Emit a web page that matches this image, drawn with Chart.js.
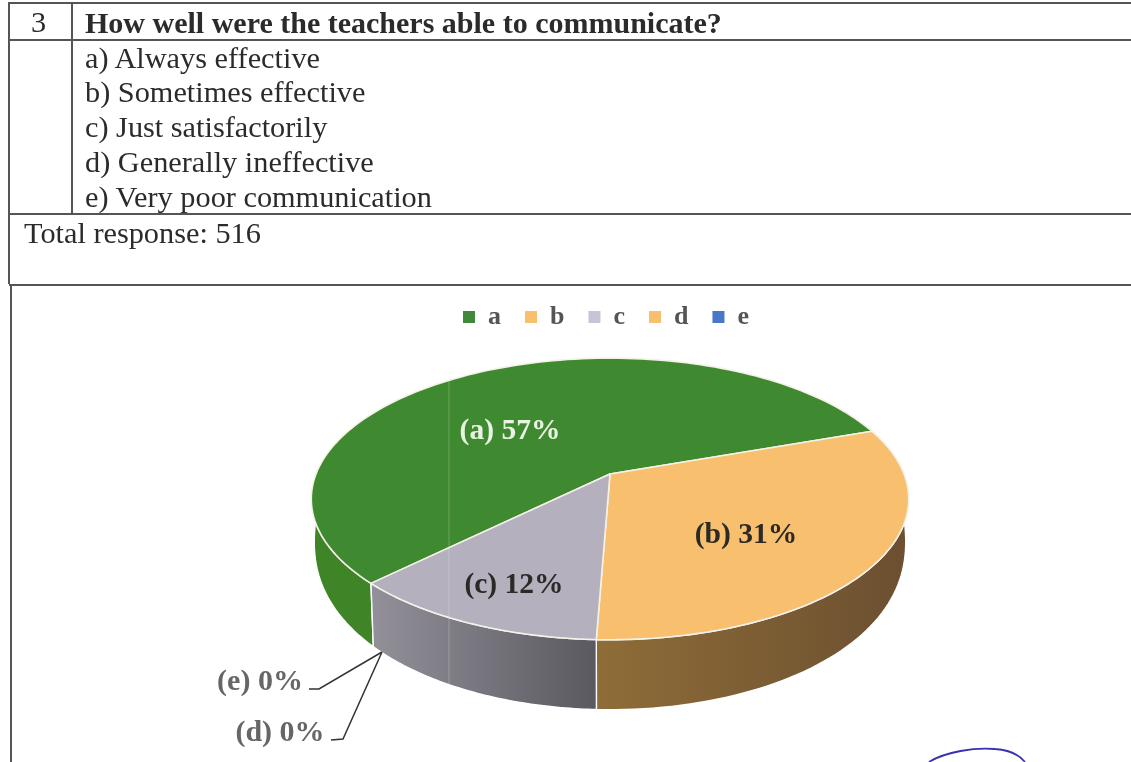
<!DOCTYPE html>
<html><head><meta charset="utf-8">
<script src="https://cdn.jsdelivr.net/npm/chart.js@4"></script>
<style>
html,body{margin:0;padding:0;background:#fff;width:1131px;height:762px;overflow:hidden}
#page{position:absolute;left:0;top:0;width:1131px;height:762px;filter:blur(.45px);font-family:"Liberation Serif",serif;color:#2b2b2b}
.l{position:absolute;background:#555}
.t{position:absolute;white-space:nowrap;font-size:30.3px;line-height:34px}
canvas{position:absolute;left:81px;top:280px}
svg{position:absolute;left:0;top:0}
</style></head><body>
<div id="page">
<div class="l" style="left:8px;top:2px;width:1123px;height:1.5px"></div>
<div class="l" style="left:8px;top:39px;width:1123px;height:1.5px"></div>
<div class="l" style="left:8px;top:213px;width:1123px;height:1.5px"></div>
<div class="l" style="left:9px;top:284px;width:1122px;height:1.5px"></div>
<div class="l" style="left:8px;top:2px;width:1.5px;height:282px"></div>
<div class="l" style="left:10px;top:284px;width:1.5px;height:478px"></div>
<div class="l" style="left:71px;top:2px;width:1.5px;height:212px"></div>
<div class="t" id="num" style="left:31px;top:5px"></div>
<div class="t" id="q" style="left:85px;top:6px;font-weight:700;font-size:30px"></div>
<div id="opts"></div>
<div class="t" id="tot" style="left:24px;top:216px"></div>
<canvas id="c" width="1050" height="482"></canvas>
<svg width="1131" height="762"><path d="M929 762C945 752 975 747 995 749C1010 750 1020 756 1025 762" fill="none" stroke="#3a30b0" stroke-width="1.8"/></svg>
</div>
<script>
const questionNo = '3';
const question = 'How well were the teachers able to communicate?';
const options = ['a) Always effective','b) Sometimes effective','c) Just satisfactorily','d) Generally ineffective','e) Very poor communication'];
const totalLabel = 'Total response: 516';
const categories = ['a','b','c','d','e'];
const percents = [57,31,12,0,0];
const topColors = ['#3f8a30','#f8bf6e','#b4b0be','#f8bf6e','#4a78c8'];
const legendColors = ['#3f8a38','#f8bf6e','#c8c4d6','#f8bf6e','#4a78c8'];
const wallLeft = ['#3f8528','#8f6d38','#93909a','#8f6d38','#3a5f9e'];
const wallRight = ['#3f8528','#6b4f30','#5a595f','#6b4f30','#3a5f9e'];
const labelColors = ['#e9f3e2','#2c2a26','#2c2a26','#666','#666'];

document.getElementById('num').textContent = questionNo;
document.getElementById('q').textContent = question;
const host = document.getElementById('opts');
options.forEach((s,i)=>{const d=document.createElement('div');d.className='t';d.style.left='85px';d.style.top=(40.5+i*34.9)+'px';d.textContent=s;host.appendChild(d);});
document.getElementById('tot').textContent = totalLabel;

const OX=81, OY=280;
const CX=610-OX, APEX=474, RX=294, PERSP=-0.177, SY=52.5, DEPTH=70;
function proj(t){const x=Math.cos(t),y=Math.sin(t),w=1+PERSP*y;return {x:CX+RX*x/w,y:(SY*y+APEX)/w-OY,sy:y};}
function projBottom(t){const p=proj(t);return {x:CX+(p.x-CX)*0.99,y:p.y+DEPTH*Math.pow(Math.max(p.sy,0),0.28)};}
function grad(ctx,i,x0,x1){const g=ctx.createLinearGradient(x0,0,x1,0);g.addColorStop(0,wallLeft[i]);g.addColorStop(1,wallRight[i]);return g;}

const pie3d={id:'pie3d',
 beforeDatasetsDraw(chart){
  const ctx=chart.ctx, arcs=chart.getDatasetMeta(0).data;
  ctx.save();
  ctx.lineJoin='round';
  arcs.forEach((a,i)=>{
    if(!percents[i])return;
    const {startAngle:s,endAngle:e}=a.getProps(['startAngle','endAngle'],true);
    let n=Math.floor(s/(2*Math.PI));
    let lo=s-n*2*Math.PI, hi=lo+(e-s);
    const ranges=[[Math.max(lo,0),Math.min(hi,Math.PI)],[Math.max(lo,2*Math.PI),Math.min(hi,3*Math.PI)]];
    ranges.forEach(([u,v])=>{
      if(v<=u)return;
      const top=[],bot=[];
      for(let k=0;k<=60;k++){const t=u+(v-u)*k/60;top.push(proj(t));bot.push(projBottom(t));}
      ctx.beginPath();
      top.forEach((p,k)=>k?ctx.lineTo(p.x,p.y):ctx.moveTo(p.x,p.y));
      bot.reverse().forEach(p=>ctx.lineTo(p.x,p.y));
      ctx.closePath();
      const xs=top.map(p=>p.x);
      ctx.fillStyle=grad(ctx,i,Math.min(...xs),Math.max(...xs));
      ctx.fill();
      ctx.strokeStyle='#fff';ctx.lineWidth=1.4;ctx.stroke();
    });
  });
  arcs.forEach((a,i)=>{
    if(!percents[i])return;
    const {startAngle:s,endAngle:e}=a.getProps(['startAngle','endAngle'],true);
    ctx.beginPath();
    ctx.moveTo(CX,APEX-OY);
    for(let k=0;k<=120;k++){const p=proj(s+(e-s)*k/120);ctx.lineTo(p.x,p.y);}
    ctx.closePath();
    ctx.fillStyle=topColors[i];ctx.fill();
    ctx.strokeStyle='#f4f1e8';ctx.lineWidth=1.6;ctx.stroke();
  });
  ctx.strokeStyle='rgba(255,255,255,.22)';ctx.lineWidth=1;
  ctx.beginPath();ctx.moveTo(449-OX,378-OY);ctx.lineTo(449-OX,688-OY);ctx.stroke();
  ctx.restore();
  return false;
 },
 afterDraw(chart){
  const ctx=chart.ctx;
  ctx.save();
  ctx.textAlign='center';ctx.textBaseline='middle';
  const spots=[[510,431,29.5],[746,535,29.5],[514,585,29.5],[280,733,30],[260,682,30]];
  categories.forEach((c,i)=>{
    const [x,y,fs]=spots[i];
    ctx.font='700 '+fs+'px "Liberation Serif"';
    ctx.fillStyle=labelColors[i];
    ctx.fillText('('+c+') '+percents[i]+'%',x-OX,y-OY);
  });
  ctx.strokeStyle='#333';ctx.lineWidth=1.5;
  ctx.beginPath();
  ctx.moveTo(309-OX,689-OY);ctx.lineTo(319-OX,689-OY);ctx.lineTo(382-OX,652-OY);
  ctx.moveTo(331-OX,740-OY);ctx.lineTo(343-OX,739-OY);ctx.lineTo(382-OX,652-OY);
  ctx.stroke();
  ctx.restore();
 }
};

new Chart(document.getElementById('c'),{
 type:'pie',
 data:{labels:categories,datasets:[{data:percents,backgroundColor:legendColors,borderWidth:0}]},
 options:{responsive:false,animation:false,rotation:-134.6,
  plugins:{tooltip:{enabled:false},
   legend:{position:'top',align:'center',labels:{boxWidth:12,boxHeight:12,padding:24,color:'#555',font:{family:'"Liberation Serif"',size:26,weight:'700'}}}}},
 plugins:[pie3d]
});
</script>
</body></html>
